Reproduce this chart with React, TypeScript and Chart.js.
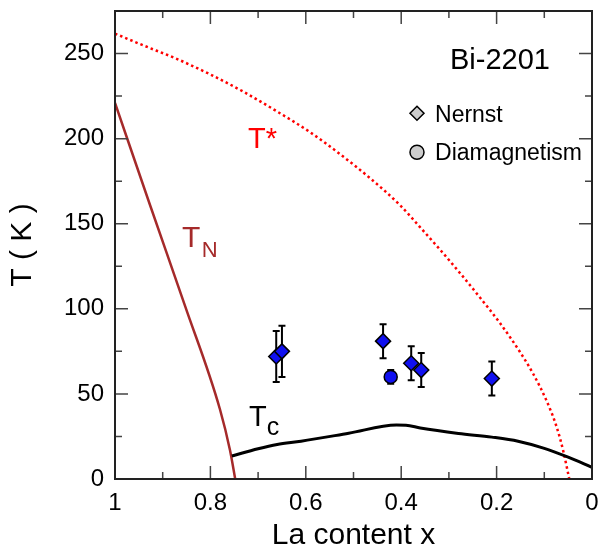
import { useEffect, useRef } from "react";
import { Chart, registerables } from "chart.js";

Chart.register(...registerables);

const FONT = "'Liberation Sans', Arial, Helvetica, sans-serif";

// T* (pseudogap) dotted red curve
const tStarX = [1, 0.9407, 0.8707, 0.8008, 0.731, 0.661, 0.5912, 0.5283, 0.4654, 0.4025, 0.3606, 0.3187, 0.2767, 0.2348, 0.1929, 0.1509, 0.1231, 0.095, 0.074, 0.0602, 0.0476];
const tStarY = [261.7, 254.8, 246.9, 237.8, 227.6, 216.1, 203.8, 190.9, 176.8, 160.9, 148.0, 134.8, 121.0, 106.6, 91.6, 74.6, 61.7, 45.8, 30.5, 16.4, 0];

// T_N (Neel) brown curve
const tnX = [1, 0.9266, 0.853, 0.78, 0.759, 0.748];
const tnY = [221, 161, 101.6, 41, 17, 0];

// T_c black curve
const tcX = [0.755, 0.7, 0.66, 0.61, 0.51, 0.41, 0.39, 0.36, 0.28, 0.21, 0.155, 0.1, 0.05, 0];
const tcY = [13.5, 17.8, 20.3, 22.2, 26.9, 31.7, 31.6, 30.0, 26.8, 24.6, 22.2, 18.0, 12.8, 6.9];

// Nernst onset points
const nernstX = [0.662, 0.65, 0.438, 0.379, 0.358, 0.21];
const nernstY = [72, 75, 81, 68, 64, 59];
const nernstErr = [15, 15, 10, 10, 10, 10];

// Diamagnetism onset point
const diaX = [0.422];
const diaY = [60];
const diaErr = [4];

const xTicks = [1, 0.8, 0.6, 0.4, 0.2, 0];
const xMinorTicks = [0.9, 0.7, 0.5, 0.3, 0.1];
const yTicks = [0, 50, 100, 150, 200, 250];
const yMinorTicks = [25, 75, 125, 175, 225];

const pts = (xs: number[], ys: number[]) => xs.map((x, i) => ({ x, y: ys[i] }));

const decor = {
  id: "decor",
  beforeDatasetsDraw(chart: any) {
    const { ctx, scales } = chart;
    const sx = scales.x;
    const sy = scales.y;
    ctx.save();
    ctx.strokeStyle = "#000";
    ctx.lineWidth = 2;
    const groups: [number[], number[], number[]][] = [
      [nernstX, nernstY, nernstErr],
      [diaX, diaY, diaErr],
    ];
    for (const [xs, ys, es] of groups) {
      xs.forEach((xv, i) => {
        const px = sx.getPixelForValue(xv);
        const top = sy.getPixelForValue(ys[i] + es[i]);
        const bot = sy.getPixelForValue(ys[i] - es[i]);
        ctx.beginPath();
        ctx.moveTo(px, top);
        ctx.lineTo(px, bot);
        ctx.moveTo(px - 3.5, top);
        ctx.lineTo(px + 3.5, top);
        ctx.moveTo(px - 3.5, bot);
        ctx.lineTo(px + 3.5, bot);
        ctx.stroke();
      });
    }
    ctx.restore();
  },
  afterDraw(chart: any) {
    const { ctx, chartArea, scales } = chart;
    const sx = scales.x;
    const sy = scales.y;
    const { left, right, top, bottom } = chartArea;
    ctx.save();
    // ticks (inward, all four sides)
    ctx.strokeStyle = "#444";
    ctx.lineWidth = 1.5;
    const drawX = (vals: number[], len: number) => {
      vals.forEach((v) => {
        const px = sx.getPixelForValue(v);
        ctx.beginPath();
        ctx.moveTo(px, bottom);
        ctx.lineTo(px, bottom - len);
        ctx.moveTo(px, top);
        ctx.lineTo(px, top + len);
        ctx.stroke();
      });
    };
    const drawY = (vals: number[], len: number) => {
      vals.forEach((v) => {
        const py = sy.getPixelForValue(v);
        ctx.beginPath();
        ctx.moveTo(left, py);
        ctx.lineTo(left + len, py);
        ctx.moveTo(right, py);
        ctx.lineTo(right - len, py);
        ctx.stroke();
      });
    };
    drawX(xTicks, 13);
    drawX(xMinorTicks, 7);
    drawY(yTicks, 13);
    drawY(yMinorTicks, 7);
    // frame
    ctx.strokeStyle = "#222";
    ctx.lineWidth = 2;
    ctx.strokeRect(left, top, right - left, bottom - top);

    // curve labels
    ctx.textAlign = "left";
    ctx.textBaseline = "alphabetic";
    const text = (s: string, x: number, y: number, size: number, color: string) => {
      ctx.font = `${size}px ${FONT}`;
      ctx.fillStyle = color;
      ctx.fillText(s, x, y);
      return ctx.measureText(s).width;
    };
    {
      const x0 = sx.getPixelForValue(0.721);
      const y0 = sy.getPixelForValue(194.4);
      text("T*", x0, y0, 29, "#ff0000");
    }
    {
      const x0 = sx.getPixelForValue(0.8596);
      const y0 = sy.getPixelForValue(136.2);
      const w = text("T", x0, y0, 30, "#a52a2a");
      text("N", x0 + w + 1.5, y0 + 10, 22, "#a52a2a");
    }
    {
      const x0 = sx.getPixelForValue(0.719);
      const y0 = sy.getPixelForValue(31.1);
      const w = text("T", x0, y0, 29, "#000");
      text("c", x0 + w, y0 + 9, 25, "#000");
    }
    // title
    text("Bi-2201", sx.getPixelForValue(0.2977), sy.getPixelForValue(240.8), 29, "#000");

    // legend
    const mx = sx.getPixelForValue(0.3669);
    const tx = sx.getPixelForValue(0.3291);
    const dy = sy.getPixelForValue(214.9);
    ctx.fillStyle = "#cccccc";
    ctx.strokeStyle = "#000";
    ctx.lineWidth = 1.5;
    ctx.beginPath();
    ctx.moveTo(mx, dy - 7);
    ctx.lineTo(mx + 7, dy);
    ctx.lineTo(mx, dy + 7);
    ctx.lineTo(mx - 7, dy);
    ctx.closePath();
    ctx.fill();
    ctx.stroke();
    text("Nernst", tx, sy.getPixelForValue(209.7), 23, "#000");
    const cy = sy.getPixelForValue(192.0);
    ctx.fillStyle = "#cccccc";
    ctx.beginPath();
    ctx.arc(mx, cy, 7, 0, Math.PI * 2);
    ctx.fill();
    ctx.stroke();
    text("Diamagnetism", tx, sy.getPixelForValue(187.3), 23, "#000");
    ctx.restore();
  },
};

export default function App() {
  const ref = useRef<HTMLCanvasElement | null>(null);
  useEffect(() => {
    if (!ref.current) return;
    const chart = new Chart(ref.current, {
      type: "scatter",
      data: {
        datasets: [
          {
            label: "Nernst",
            data: pts(nernstX, nernstY),
            pointStyle: "rectRot",
            pointRadius: 7.5,
            backgroundColor: "#1010f0",
            borderColor: "#000",
            borderWidth: 1.5,
            order: 0,
          },
          {
            label: "Diamagnetism",
            data: pts(diaX, diaY),
            pointStyle: "circle",
            pointRadius: 6.5,
            backgroundColor: "#1010f0",
            borderColor: "#000",
            borderWidth: 1.5,
            order: 1,
          },
          {
            label: "T*",
            data: pts(tStarX, tStarY),
            showLine: true,
            borderColor: "#ff0000",
            borderWidth: 2.5,
            borderDash: [2.5, 3],
            pointRadius: 0,
            cubicInterpolationMode: "monotone",
            order: 4,
          },
          {
            label: "TN",
            data: pts(tnX, tnY),
            showLine: true,
            borderColor: "#a52a2a",
            borderWidth: 2.5,
            pointRadius: 0,
            cubicInterpolationMode: "monotone",
            order: 3,
          },
          {
            label: "Tc",
            data: pts(tcX, tcY),
            showLine: true,
            borderColor: "#000",
            borderWidth: 3,
            pointRadius: 0,
            cubicInterpolationMode: "monotone",
            order: 2,
          },
        ],
      },
      options: {
        animation: false,
        responsive: false,
        devicePixelRatio: 1,
        layout: { padding: { top: 11, right: 12, left: 0, bottom: 0 } },
        plugins: { legend: { display: false }, tooltip: { enabled: false } },
        scales: {
          x: {
            type: "linear",
            reverse: true,
            min: 0,
            max: 1,
            afterBuildTicks: (s: any) => {
              s.ticks = xTicks.map((v) => ({ value: v }));
            },
            afterFit: (s: any) => {
              s.height = 71;
              s.paddingLeft = 0;
              s.paddingRight = 0;
            },
            grid: { display: false, drawTicks: false },
            border: { display: false },
            ticks: {
              color: "#000",
              padding: 10,
              maxRotation: 0,
              autoSkip: false,
              font: { family: FONT, size: 24 },
              callback: (v: any) => String(v),
            },
            title: {
              display: true,
              text: "La content x",
              color: "#000",
              font: { family: FONT, size: 30, lineHeight: 1 },
              padding: { top: 0, bottom: -1 },
            },
          },
          y: {
            type: "linear",
            min: 0,
            max: 275,
            afterBuildTicks: (s: any) => {
              s.ticks = yTicks.map((v) => ({ value: v }));
            },
            afterFit: (s: any) => {
              s.width = 115;
              s.paddingTop = 0;
              s.paddingBottom = 0;
            },
            grid: { display: false, drawTicks: false },
            border: { display: false },
            ticks: {
              color: "#000",
              padding: 11,
              autoSkip: false,
              font: { family: FONT, size: 24 },
              callback: (v: any) => String(v),
            },
            title: {
              display: true,
              text: "T ( K )",
              color: "#000",
              font: { family: FONT, size: 30, lineHeight: 1 },
              padding: { top: 7.5, bottom: 0 },
            },
          },
        },
      } as any,
      plugins: [decor],
    });
    return () => chart.destroy();
  }, []);
  return (
    <div style={{ position: "fixed", left: 0, top: 0, width: 604, height: 550, background: "#fff" }}>
      <canvas ref={ref} width={604} height={550} style={{ display: "block" }} />
    </div>
  );
}
